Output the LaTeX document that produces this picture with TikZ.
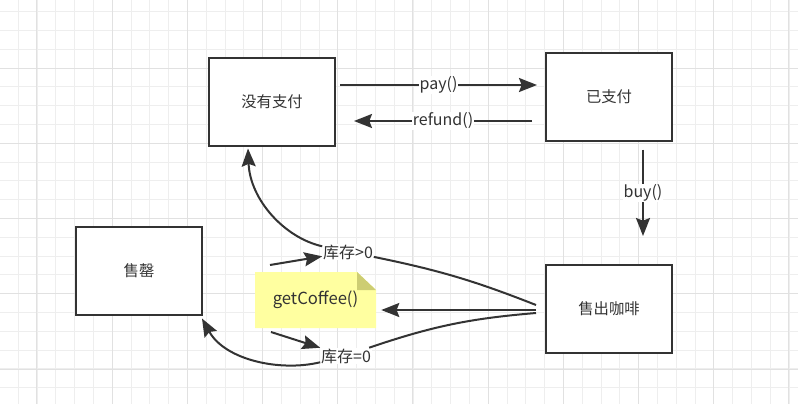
\documentclass[tikz,border=0pt]{standalone}
\usepackage{fontspec}
\newfontfamily\cjk{Noto Sans CJK SC}
\usetikzlibrary{arrows.meta,positioning,calc}
\definecolor{linecolor}{RGB}{51,51,51}
\definecolor{notecolor}{RGB}{255,255,160}
\definecolor{foldcolor}{RGB}{205,205,115}
\definecolor{gridminor}{RGB}{238,238,238}
\definecolor{gridmajor}{RGB}{225,225,225}

\begin{document}
\begin{tikzpicture}[x=0.75pt, y=-0.75pt,
        state/.style={rectangle, draw=linecolor, line width=1.5pt, fill=white, minimum width=94.5pt, minimum height=66pt, font=\cjk\fontsize{11.5}{13}\selectfont, text=linecolor},
        lbl/.style={fill=white, inner sep=0.5pt, font=\cjk\fontsize{12}{14}\selectfont, text=linecolor},
        arrow/.style={-{Stealth[length=13.5pt, width=10.5pt, inset=2pt]}, line width=1.5pt, draw=linecolor},
        line/.style={line width=1.5pt, draw=linecolor}
    ]

        % Background grid
        \useasboundingbox (0,0) rectangle (798,404);
        \clip (0,0) rectangle (798,404);
        \fill[white] (0,0) rectangle (798,404);
        \foreach \k in {0,...,42} {
            \draw[gridminor, line width=0.75pt] ({18.3+18.8*\k},0) -- ++(0,404);
        }
        \foreach \k in {0,...,21} {
            \draw[gridminor, line width=0.75pt] (0,{11.6+18.8*\k}) -- ++(798,0);
        }
        \foreach \k in {0,...,10} {
            \draw[gridmajor, line width=0.75pt] ({36.9+75.2*\k},0) -- ++(0,404);
        }
        \foreach \k in {0,...,5} {
            \draw[gridmajor, line width=0.75pt] (0,{-7+75.2*\k}) -- ++(798,0);
        }

        % States
        \node[state] (nopay) at (272,101.5) {没有支付};
        \node[state] (paid) at (609,96.5) {已支付};
        \node[state] (soldout) at (139,270.5) {售罄};
        \node[state] (sold) at (609,309) {售出咖啡};

        % Note
        \fill[notecolor] (255,272) -- (357,272) -- (376,290) -- (376,328) -- (255,328) -- cycle;
        \fill[foldcolor] (357,272) -- (357,290) -- (376,290) -- cycle;
        \node[minimum width=90.75pt, minimum height=42pt, font=\cjk\fontsize{12.5}{14}\selectfont, text=linecolor] (note) at (315.5,300) {getCoffee()};

        % Pay and refund
        \draw[arrow] ([shift={(4,-16.5)}]nopay.east) -- ([shift={(-8,-11.5)}]paid.west)
            node[lbl, midway] {pay()};
        \draw[arrow] ([shift={(-13,24.5)}]paid.west) -- ([shift={(18,19.5)}]nopay.east)
            node[lbl, midway] {refund()};

        % Buy
        \draw[arrow] ([shift={(34,8)}]paid.south) -- ([shift={(34,-28)}]sold.north)
            node[lbl, midway] {buy()};

        % Get coffee
        \draw[arrow] ([shift={(-9,1)}]sold.west) -- ([shift={(5,10)}]note.east);

        % Stock labels
        \node[lbl] (gt) at (348,252) {库存>0};
        \node[lbl] (eq) at (346,356) {库存=0};
        \coordinate (n1) at (270,265);
        \coordinate (n2) at (271,332);

        % Stock > 0
        \draw[line] ([shift={(-9,-4)}]sold.west) to[bend right=5] (gt);
        \draw[arrow] (gt) .. controls (285,238) and (250,200) .. ([shift={(-24,2)}]nopay.south);
        \draw[arrow] (n1) -- (gt);

        % Stock = 0
        \draw[line] ([shift={(-9,4)}]sold.west) to[bend right=7] (eq);
        \draw[arrow] (eq) .. controls (280,372) and (225,360) .. ([shift={(-1,3)}]soldout.south east);
        \draw[arrow] (n2) -- (eq);

    \end{tikzpicture}
\end{document}
